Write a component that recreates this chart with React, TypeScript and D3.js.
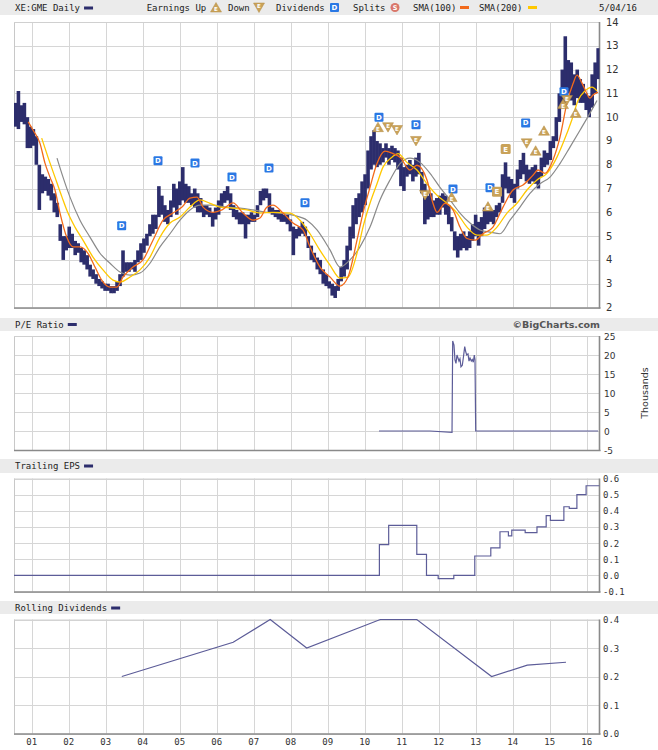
import React from "react";
import * as d3 from "d3";

// ---------- categories / ticks ----------
const yearTicks = [2001, 2002, 2003, 2004, 2005, 2006, 2007, 2008, 2009, 2010, 2011, 2012, 2013, 2014, 2015, 2016];
const yearTickLabels = ["01", "02", "03", "04", "05", "06", "07", "08", "09", "10", "11", "12", "13", "14", "15", "16"];
const priceTicks = [2, 3, 4, 5, 6, 7, 8, 9, 10, 11, 12, 13, 14];
const peTicks = [-5, 0, 5, 10, 15, 20, 25];
const epsTicks = [-0.1, 0, 0.1, 0.2, 0.3, 0.4, 0.5, 0.6];
const divTicks = [0, 0.1, 0.2, 0.3, 0.4];

// ---------- daily price (period low / high) ----------
const priceStartYear = 2000.52;
const priceEndYear = 2016.35;
const priceLow = [
  9.6, 9.5, 9.8, 9.7, 8.7, 8.7, 8.8, 8.0, 6.1, 6.8, 6.9, 6.7, 6.5, 6.0, 5.8, 4.8, 4.0, 4.4, 4.5, 4.5,
  4.2, 4.3, 3.9, 3.8, 3.6, 3.3, 3.2, 3.0, 2.9, 2.8, 2.7, 2.7, 2.6, 2.6, 2.7, 2.9, 3.3, 3.5, 3.5, 3.6,
  3.5, 3.9, 4.0, 4.3, 4.6, 5.0, 5.1, 5.3, 5.8, 5.9, 5.6, 5.5, 5.8, 6.2, 5.9, 6.3, 6.5, 6.4, 6.4, 6.3,
  6.2, 6.0, 6.0, 5.8, 5.9, 5.8, 5.4, 5.7, 5.9, 6.2, 6.4, 6.5, 6.1, 5.8, 5.7, 5.5, 5.5, 4.9, 5.5, 5.6,
  5.6, 5.8, 6.3, 6.5, 6.6, 6.0, 5.9, 5.8, 5.7, 5.6, 5.6, 5.5, 5.2, 4.2, 4.9, 5.0, 5.1, 5.0, 4.5, 4.0,
  3.9, 3.6, 3.4, 3.0, 2.9, 2.8, 2.5, 2.4, 2.7, 3.1, 3.3, 3.6, 4.4, 4.9, 5.5, 5.8, 6.0, 6.3, 7.0, 7.8,
  8.0, 7.9, 8.0, 8.1, 8.3, 8.0, 8.2, 8.1, 7.8, 7.1, 6.9, 7.5, 7.6, 7.3, 7.5, 7.6, 6.8, 5.5, 5.7, 5.8,
  5.8, 5.9, 5.9, 6.2, 5.9, 5.5, 5.2, 4.4, 4.1, 4.4, 4.5, 4.4, 4.5, 4.8, 5.0, 4.6, 5.0, 5.3, 5.5, 5.6,
  5.5, 5.8, 6.0, 6.4, 7.0, 6.8, 6.6, 6.4, 7.0, 7.4, 7.6, 7.3, 7.2, 7.3, 7.2, 7.0, 7.5, 7.9, 8.0, 8.2,
  8.7, 9.0, 9.8, 10.4, 10.6, 11.0, 10.7, 10.5, 10.8, 10.6, 10.6, 10.3, 10.0, 10.4, 11.0, 11.6,
];
const priceHigh = [
  10.6, 11.1, 10.5, 10.6, 10.0, 9.6, 9.5, 9.2, 8.0, 7.6, 7.5, 7.4, 7.2, 6.8, 6.4, 5.5, 5.0, 5.0, 5.4, 5.1,
  4.8, 4.7, 4.5, 4.4, 4.2, 3.8, 3.6, 3.4, 3.2, 3.1, 3.0, 3.0, 2.9, 2.9, 3.1, 3.4, 4.4, 3.9, 3.9, 3.9,
  4.0, 4.4, 4.7, 4.9, 5.1, 5.5, 5.9, 5.9, 7.1, 6.7, 6.3, 6.1, 6.5, 7.2, 7.0, 7.3, 7.9, 7.2, 7.1, 6.8,
  7.0, 6.8, 6.6, 6.3, 6.3, 6.2, 6.0, 6.2, 6.5, 6.8, 6.9, 7.1, 6.8, 6.3, 6.1, 6.0, 6.0, 5.9, 5.9, 6.0,
  5.9, 6.3, 6.9, 7.0, 7.0, 6.8, 6.2, 6.1, 6.1, 6.0, 5.9, 5.9, 5.7, 5.4, 5.3, 5.4, 5.6, 5.4, 5.0, 4.6,
  4.3, 4.1, 4.0, 3.6, 3.4, 3.1, 3.0, 2.9, 3.2, 3.7, 4.0, 4.6, 5.4, 6.3, 6.6, 6.8, 7.3, 7.6, 8.6, 9.2,
  9.45, 9.0, 8.9, 8.7, 8.9, 8.7, 8.8, 8.7, 8.6, 8.3, 7.9, 8.0, 8.2, 8.0, 8.3, 8.5, 7.7, 7.2, 6.7, 6.8,
  6.5, 6.6, 6.7, 6.8, 6.7, 6.3, 5.8, 5.2, 5.0, 5.1, 5.2, 5.0, 5.2, 5.5, 5.9, 5.6, 5.8, 6.2, 6.2, 6.1,
  6.1, 6.3, 6.4, 7.6, 8.1, 7.5, 7.4, 7.2, 7.8, 8.2, 8.5, 8.0, 7.8, 7.9, 8.0, 7.7, 8.3, 8.6, 8.5, 9.0,
  9.2, 10.0, 11.0, 12.0, 13.4, 12.4, 12.3, 11.8, 12.0, 11.6, 11.4, 11.0, 10.9, 11.8, 12.3, 12.9,
];

// ---------- moving averages ----------
const sma100Years = [
  2000.908, 2001.035, 2001.224, 2001.359, 2001.494, 2001.629, 2001.765, 2001.946, 2002.116, 2002.305,
  2002.521, 2002.71, 2002.892, 2003.116, 2003.305, 2003.467, 2003.738, 2004.008, 2004.278, 2004.548,
  2004.819, 2005.062, 2005.278, 2005.467, 2005.63, 2005.9, 2006.143, 2006.44, 2006.711, 2006.981,
  2007.17, 2007.359, 2007.521, 2007.792, 2008.062, 2008.332, 2008.521, 2008.792, 2009.062, 2009.332,
  2009.548, 2009.792, 2009.954, 2010.143, 2010.332, 2010.548, 2010.765, 2010.954, 2011.224, 2011.413,
  2011.683, 2011.846, 2011.954, 2012.17, 2012.386, 2012.575, 2012.765, 2012.981, 2013.197, 2013.467,
  2013.738, 2014.008, 2014.278, 2014.548, 2014.684, 2014.873, 2015.089, 2015.278, 2015.467, 2015.629,
  2015.738, 2015.873, 2015.981, 2016.089, 2016.17, 2016.305,
];
const sma100Values = [
  9.8, 9.46, 8.9, 8.07, 7.48, 6.94, 5.97, 4.96, 4.55, 4.55,
  4.28, 3.7, 3.15, 2.86, 2.86, 3.28, 3.7, 4.0, 4.83, 5.67,
  5.97, 6.22, 6.6, 6.64, 6.22, 6.0, 6.1, 6.4, 5.97, 5.67,
  5.76, 6.22, 6.3, 5.97, 5.55, 5.26, 4.55, 3.7, 3.28, 2.9,
  3.28, 4.83, 5.97, 7.05, 8.05, 8.57, 8.47, 8.32, 7.78, 7.98,
  7.36, 6.38, 6.0, 6.38, 6.1, 5.38, 4.9, 4.83, 5.1, 5.38,
  6.22, 6.94, 7.15, 7.56, 7.78, 7.64, 8.2, 9.16, 10.6, 11.4,
  11.77, 11.43, 11.07, 10.8, 10.93, 11.05,
];
const sma200Years = [
  2001.27, 2001.44, 2001.629, 2001.819, 2001.981, 2002.17, 2002.386, 2002.656, 2002.927, 2003.197,
  2003.386, 2003.657, 2003.927, 2004.197, 2004.467, 2004.738, 2005.008, 2005.278, 2005.548, 2005.819,
  2006.089, 2006.44, 2006.819, 2007.17, 2007.521, 2007.981, 2008.251, 2008.521, 2008.792, 2009.062,
  2009.332, 2009.548, 2009.792, 2009.954, 2010.143, 2010.332, 2010.494, 2010.738, 2010.9, 2011.143,
  2011.413, 2011.683, 2011.954, 2012.224, 2012.494, 2012.765, 2013.035, 2013.305, 2013.575, 2013.846,
  2014.116, 2014.386, 2014.657, 2014.927, 2015.197, 2015.359, 2015.602, 2015.765, 2015.954, 2016.143,
  2016.278,
];
const sma200Values = [
  9.12, 8.32, 7.48, 6.64, 5.97, 5.38, 4.83, 4.12, 3.58, 3.15,
  3.07, 3.28, 3.58, 4.12, 4.96, 5.55, 5.8, 6.22, 6.52, 6.38,
  6.22, 6.18, 6.1, 5.97, 6.0, 5.97, 5.67, 5.1, 4.4, 3.78,
  3.24, 3.28, 4.28, 5.38, 6.38, 7.2, 7.9, 8.32, 8.47, 8.1,
  7.78, 7.2, 6.72, 6.38, 5.97, 5.38, 5.04, 5.04, 5.38, 5.97,
  6.38, 6.94, 7.36, 7.64, 8.32, 8.9, 9.9, 10.7, 11.1, 11.26,
  11.1,
];
const smaLongYears = [
  2001.684, 2001.846, 2002.035, 2002.305, 2002.575, 2002.846, 2003.116, 2003.386, 2003.657, 2003.927,
  2004.197, 2004.467, 2004.738, 2005.008, 2005.278, 2005.548, 2005.9, 2006.278, 2006.63, 2006.981,
  2007.359, 2007.711, 2008.062, 2008.44, 2008.711, 2009.062, 2009.332, 2009.602, 2009.873, 2010.143,
  2010.413, 2010.684, 2010.954, 2011.224, 2011.494, 2011.765, 2012.035, 2012.305, 2012.575, 2012.846,
  2013.116, 2013.386, 2013.657, 2013.927, 2014.197, 2014.467, 2014.738, 2015.008, 2015.278, 2015.548,
  2015.819, 2016.089, 2016.278,
];
const smaLongValues = [
  8.28, 7.48, 6.64, 5.67, 4.96, 4.28, 3.86, 3.49, 3.36, 3.45,
  3.86, 4.55, 5.1, 5.67, 6.1, 6.3, 6.3, 6.22, 6.18, 6.1,
  6.0, 5.97, 5.88, 5.67, 5.26, 4.42, 3.7, 4.0, 4.55, 5.38,
  6.52, 7.36, 8.05, 8.28, 8.1, 7.64, 7.05, 6.52, 5.97, 5.55,
  5.26, 5.17, 5.1, 5.67, 6.22, 6.8, 7.2, 7.48, 8.05, 8.74,
  9.45, 10.17, 10.7,
];

// ---------- event markers ----------
const dividendYears = [2003.432, 2004.413, 2005.413, 2006.413, 2007.413, 2008.386, 2010.386, 2011.386, 2012.386, 2013.386, 2014.35, 2015.386];
const dividendLevels = [5.44, 8.17, 8.07, 7.48, 7.86, 6.4, 10.0, 9.68, 6.98, 7.03, 9.76, 11.07];
const earningsUpYears = [2010.359, 2012.35, 2013.332, 2014.62, 2014.846, 2015.36, 2015.702];
const earningsUpLevels = [9.58, 6.64, 6.24, 8.59, 9.43, 10.55, 10.18];
const earningsDownYears = [2010.63, 2010.873, 2011.386, 2011.63, 2014.378, 2015.467];
const earningsDownLevels = [9.58, 9.46, 9.0, 6.73, 8.9, 10.72];
const earningsFlatYears = [2013.575, 2013.81];
const earningsFlatLevels = [6.87, 8.66];

// ---------- P/E ratio (thousands) ----------
const peYears = [
  2010.386, 2011.765, 2012.36, 2012.378, 2012.413, 2012.44, 2012.467, 2012.494, 2012.521, 2012.548,
  2012.575, 2012.602, 2012.638, 2012.665, 2012.703, 2012.73, 2012.756, 2012.792, 2012.819, 2012.846,
  2012.881, 2012.908, 2012.935, 2012.962, 2012.981, 2013.0, 2016.305,
];
const peValues = [
  0, 0, -0.35, 23.7, 22.6, 18.7, 17.8, 20, 19.2, 18.4,
  19, 16.9, 17.3, 19.2, 22.2, 20.9, 20, 20.3, 18.4, 19.2,
  18.4, 18.8, 18.1, 20, 18.8, 0, 0,
];

// ---------- trailing EPS ----------
const epsYears = [
  2000.52, 2010.397, 2010.648, 2011.408, 2011.67, 2011.986, 2012.408, 2012.975, 2013.408, 2013.656,
  2013.884, 2013.975, 2014.337, 2014.656, 2014.905, 2015.018, 2015.383, 2015.529, 2015.735, 2015.984,
  2016.35,
];
const epsValues = [
  0, 0.19, 0.31, 0.13, 0.0, -0.02, 0.0, 0.12, 0.17, 0.27,
  0.245, 0.28, 0.265, 0.3, 0.37, 0.34, 0.425, 0.415, 0.5, 0.555,
  0.555,
];

// ---------- rolling dividends ----------
const divYears = [2003.435, 2006.446, 2007.446, 2008.432, 2010.421, 2011.408, 2013.43, 2014.394, 2015.44];
const divValues = [0.2, 0.32, 0.4, 0.3, 0.4, 0.4, 0.2, 0.24, 0.25];

// ---------- styling ----------
const MONO = "'DejaVu Sans Mono', monospace";
const SANS = "'DejaVu Sans', Verdana, sans-serif";
const NAVY = "#2c2d6c";
const SERIES = "#5c5c98";
const GRID = "#d6d6d6";
const HEADER = "#ebebeb";
const TAN = "#c9a259";
const DBLUE = "#2a78e4";

const X0 = 14;
const X1 = 599.5;

type Panel = {
  id: string;
  top: number;
  bottom: number;
  y: d3.ScaleLinear<number, number>;
  ticks: number[];
  fmt: (v: number) => string;
  font: string;
  size: number;
  lx: number;
};

export default function App() {
  const x = d3.scaleLinear().domain([2001, 2016]).range([31.7, 586.7]);
  const idxYear = d3.scaleLinear().domain([0, priceLow.length]).range([priceStartYear, priceEndYear]);

  const yMain = d3.scaleLinear().domain([2, 14]).range([307.5, 22]);
  const yPe = d3.scaleLinear().domain([-5, 25]).range([450, 336]);
  const yEps = d3.scaleLinear().domain([-0.1, 0.6]).range([591.5, 478.5]);
  const yDiv = d3.scaleLinear().domain([0, 0.4]).range([733.5, 619.5]);

  const panels: Panel[] = [
    { id: "main", top: 22, bottom: 307.5, y: yMain, ticks: priceTicks, fmt: (v) => String(v), font: SANS, size: 10, lx: 606 },
    { id: "pe", top: 336, bottom: 450, y: yPe, ticks: peTicks, fmt: (v) => String(v), font: SANS, size: 9, lx: 604 },
    { id: "eps", top: 478.5, bottom: 591.5, y: yEps, ticks: epsTicks, fmt: (v) => v.toFixed(1), font: MONO, size: 9, lx: 603 },
    { id: "div", top: 619.5, bottom: 733.5, y: yDiv, ticks: divTicks, fmt: (v) => v.toFixed(1), font: MONO, size: 9, lx: 603 },
  ];

  const headers = [
    { y0: 0, y1: 15 },
    { y0: 318, y1: 331 },
    { y0: 459, y1: 473 },
    { y0: 601, y1: 614 },
  ];

  const smaLine = (years: number[]) =>
    d3
      .line<number>()
      .x((_, i) => x(years[i]))
      .y((v) => yMain(v))
      .curve(d3.curveMonotoneX);

  const peLine = d3.line<number>().x((_, i) => x(peYears[i])).y((v) => yPe(v));
  const epsLine = d3
    .line<number>()
    .x((_, i) => x(epsYears[i]))
    .y((v) => yEps(v))
    .curve(d3.curveStepAfter);
  const divLine = d3.line<number>().x((_, i) => x(divYears[i])).y((v) => yDiv(v));

  const seriesLabel = (label: string, ty: number) => {
    const end = 15 + label.length * 5.42;
    return (
      <g>
        <text x={15} y={ty} fontFamily={MONO} fontSize={9} fill="#222">
          {label}
        </text>
        <rect x={end + 4} y={ty - 4.5} width={9} height={3} fill={NAVY} />
      </g>
    );
  };

  const upTri = (cx: number, cy: number, key: string | number, label = true) => (
    <g key={key}>
      <path d={`M${cx - 5.5},${cy + 4.5}L${cx + 5.5},${cy + 4.5}L${cx},${cy - 5}Z`} fill={TAN} stroke="#b58d45" strokeWidth={0.5} />
      {label && (
        <text x={cx} y={cy + 3.6} textAnchor="middle" fontFamily={SANS} fontSize={5.5} fontWeight="bold" fill="#fff">
          E
        </text>
      )}
    </g>
  );
  const downTri = (cx: number, cy: number, key: string | number, label = true) => (
    <g key={key}>
      <path d={`M${cx - 5.5},${cy - 4.5}L${cx + 5.5},${cy - 4.5}L${cx},${cy + 5}Z`} fill={TAN} stroke="#b58d45" strokeWidth={0.5} />
      {label && (
        <text x={cx} y={cy + 0.6} textAnchor="middle" fontFamily={SANS} fontSize={5.5} fontWeight="bold" fill="#fff">
          E
        </text>
      )}
    </g>
  );
  const flatBox = (cx: number, cy: number, key: string | number) => (
    <g key={key}>
      <rect x={cx - 5} y={cy - 5} width={10} height={10} rx={1.5} fill={TAN} />
      <text x={cx} y={cy + 2.6} textAnchor="middle" fontFamily={SANS} fontSize={7} fontWeight="bold" fill="#fff">
        E
      </text>
    </g>
  );
  const divBox = (cx: number, cy: number, key: string | number) => (
    <g key={key}>
      <rect x={cx - 4.5} y={cy - 4.5} width={9} height={9} rx={1} fill={DBLUE} />
      <text x={cx} y={cy + 2.5} textAnchor="middle" fontFamily={SANS} fontSize={7} fontWeight="bold" fill="#fff">
        D
      </text>
    </g>
  );

  return (
    <svg
      width={658}
      height={750}
      viewBox="0 0 658 750"
      style={{ position: "absolute", left: 0, top: 0, background: "#fff" }}
    >
      <defs>
        {panels.map((p) => (
          <clipPath id={`clip-${p.id}`} key={p.id}>
            <rect x={X0} y={p.top - 1} width={X1 - X0} height={p.bottom - p.top + 2} />
          </clipPath>
        ))}
      </defs>
      <rect x={0} y={0} width={658} height={750} fill="#fff" />

      {/* header bars */}
      {headers.map((h, i) => (
        <rect key={i} x={0} y={h.y0} width={658} height={h.y1 - h.y0} fill={HEADER} />
      ))}

      {/* panels: grid, frame, axis labels */}
      {panels.map((p) => (
        <g key={p.id}>
          <rect x={X0} y={p.top} width={X1 - X0} height={p.bottom - p.top} fill="#fff" />
          {yearTicks.map((t) => (
            <line key={t} x1={Math.round(x(t)) + 0.5} x2={Math.round(x(t)) + 0.5} y1={p.top} y2={p.bottom} stroke={GRID} strokeWidth={1} />
          ))}
          {p.ticks.map((t) => (
            <line key={t} x1={X0} x2={X1} y1={Math.round(p.y(t)) + 0.5} y2={Math.round(p.y(t)) + 0.5} stroke={GRID} strokeWidth={1} />
          ))}
          <line x1={X0 + 0.5} x2={X0 + 0.5} y1={p.top} y2={p.bottom} stroke="#c8c8c8" />
          <line x1={X0} x2={X1} y1={p.top + 0.5} y2={p.top + 0.5} stroke="#d0d0d0" />
          <line x1={X0} x2={X1 + 1} y1={p.bottom + 0.5} y2={p.bottom + 0.5} stroke="#8a8a8a" strokeWidth={1.6} />
          <line x1={X1} x2={X1} y1={p.top} y2={p.bottom + 1} stroke="#8a8a8a" strokeWidth={1.6} />
          {p.ticks.map((t) => (
            <text key={t} x={p.lx} y={p.y(t) + 3.5} fontFamily={p.font} fontSize={p.size} fill="#333">
              {p.fmt(t)}
            </text>
          ))}
        </g>
      ))}

      {/* main price chart */}
      <g clipPath="url(#clip-main)">
        {priceLow.map((lo, i) => {
          const xa = x(idxYear(i));
          const xb = x(idxYear(i + 1));
          return (
            <rect
              key={i}
              x={xa - 0.3}
              y={yMain(priceHigh[i])}
              width={Math.max(1, xb - xa + 0.6)}
              height={Math.max(1, yMain(lo) - yMain(priceHigh[i]))}
              fill={NAVY}
            />
          );
        })}
        <path d={smaLine(smaLongYears)(smaLongValues) || ""} fill="none" stroke="#8a8a8a" strokeWidth={1.2} />
        <path d={smaLine(sma200Years)(sma200Values) || ""} fill="none" stroke="#ffc800" strokeWidth={1.3} />
        <path d={smaLine(sma100Years)(sma100Values) || ""} fill="none" stroke="#f26a1b" strokeWidth={1.3} />
        {dividendYears.map((t, i) => divBox(x(t), yMain(dividendLevels[i]), `d${i}`))}
        {earningsFlatYears.map((t, i) => flatBox(x(t), yMain(earningsFlatLevels[i]), `f${i}`))}
        {earningsDownYears.map((t, i) => downTri(x(t), yMain(earningsDownLevels[i]), `dn${i}`))}
        {earningsUpYears.map((t, i) => upTri(x(t), yMain(earningsUpLevels[i]), `up${i}`))}
      </g>

      {/* P/E */}
      <g clipPath="url(#clip-pe)">
        <path d={peLine(peValues) || ""} fill="none" stroke={SERIES} strokeWidth={1.2} />
      </g>
      {/* EPS */}
      <g clipPath="url(#clip-eps)">
        <path d={epsLine(epsValues) || ""} fill="none" stroke={SERIES} strokeWidth={1.2} />
      </g>
      {/* Dividends */}
      <g clipPath="url(#clip-div)">
        <path d={divLine(divValues) || ""} fill="none" stroke={SERIES} strokeWidth={1.2} />
      </g>

      {/* x-axis year labels */}
      {yearTicks.map((t, i) => (
        <text key={t} x={x(t)} y={745} textAnchor="middle" fontFamily={MONO} fontSize={9} fill="#333">
          {yearTickLabels[i]}
        </text>
      ))}

      {/* main header legend */}
      {seriesLabel("XE:GME Daily", 11)}
      <text x={146.7} y={11} fontFamily={MONO} fontSize={9} fill="#222">Earnings Up</text>
      {upTri(216, 7.5, "lu", true)}
      <text x={228} y={11} fontFamily={MONO} fontSize={9} fill="#222">Down</text>
      {downTri(259, 7.5, "ld", true)}
      <text x={276} y={11} fontFamily={MONO} fontSize={9} fill="#222">Dividends</text>
      {divBox(334.5, 7.5, "ldv")}
      <text x={353} y={11} fontFamily={MONO} fontSize={9} fill="#222">Splits</text>
      <circle cx={395} cy={7.5} r={4.5} fill="#d9776a" />
      <text x={395} y={10} textAnchor="middle" fontFamily={SANS} fontSize={6.5} fontWeight="bold" fill="#fff">S</text>
      <text x={413} y={11} fontFamily={MONO} fontSize={9} fill="#222">SMA(100)</text>
      <rect x={460} y={6} width={9} height={3} fill="#f26a1b" />
      <text x={479} y={11} fontFamily={MONO} fontSize={9} fill="#222">SMA(200)</text>
      <rect x={528} y={6} width={9} height={3} fill="#ffc800" />
      <text x={599} y={11} fontFamily={MONO} fontSize={9} fill="#222">5/04/16</text>

      {/* sub-panel headers */}
      {seriesLabel("P/E Ratio", 327.5)}
      <text x={600} y={328} textAnchor="end" fontFamily={SANS} fontSize={9.5} fontWeight="bold" fill="#555">©BigCharts.com</text>
      <text
        x={648}
        y={393}
        textAnchor="middle"
        fontFamily={SANS}
        fontSize={9.5}
        fill="#333"
        transform="rotate(-90 648 393)"
      >
        Thousands
      </text>
      {seriesLabel("Trailing EPS", 469)}
      {seriesLabel("Rolling Dividends", 611)}
    </svg>
  );
}
